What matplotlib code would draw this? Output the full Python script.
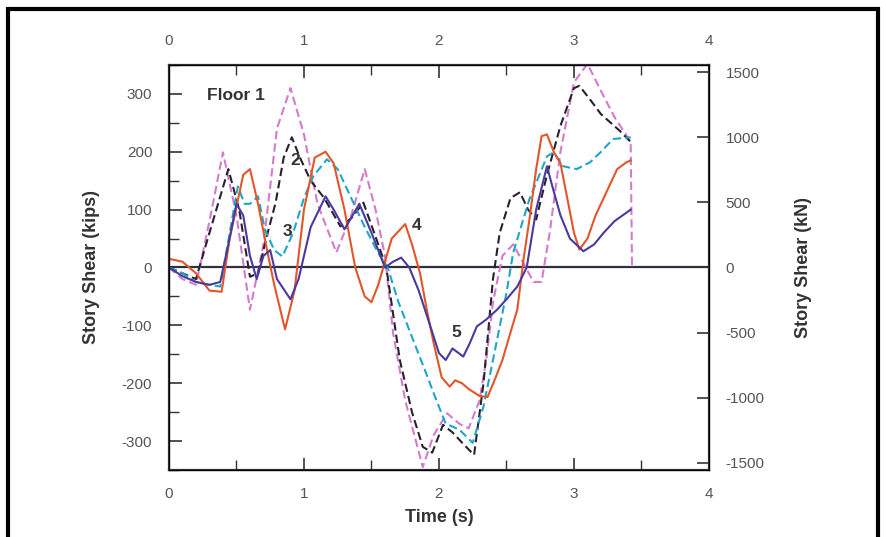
import numpy as np
import matplotlib
matplotlib.use("Agg")
import matplotlib.pyplot as plt
from matplotlib.patches import Rectangle

plt.rcParams['font.family'] = ['Liberation Sans', 'DejaVu Sans']
plt.rcParams['axes.unicode_minus'] = False

# story shear (kips), floors 1..5
t1 = [0, 0.1, 0.2, 0.3, 0.4, 0.5, 0.6, 0.7, 0.8, 0.9, 1.0, 1.1, 1.24, 1.35, 1.45, 1.53, 1.6, 1.66, 1.75,
      1.88, 1.96, 2.06, 2.15, 2.22, 2.3, 2.35, 2.4, 2.47, 2.55, 2.62, 2.7, 2.76, 2.82, 2.9, 3.0, 3.1,
      3.2, 3.3, 3.42, 3.43]
v1 = [0, -20, -30, 80, 199, 90, -73, 40, 240, 310, 230, 110, 26, 90, 170, 100, 20, -113, -230,
      -345, -290, -252, -270, -278, -230, -160, -60, 20, 40, 10, -25, -25, 60, 200, 320, 352,
      305, 260, 217, 0]

t2 = [0, 0.1, 0.2, 0.3, 0.44, 0.52, 0.6, 0.66, 0.72, 0.79, 0.85, 0.91, 0.97, 1.05, 1.15, 1.27, 1.35,
      1.44, 1.52, 1.61, 1.71, 1.8, 1.88, 1.95, 2.03, 2.1, 2.18, 2.26, 2.33, 2.4, 2.45, 2.53, 2.6,
      2.66, 2.72, 2.8, 2.9, 3.0, 3.04, 3.12, 3.2, 3.34, 3.42]
v2 = [0, -10, -20, 60, 170, 100, -16, -10, 50, 112, 190, 225, 190, 150, 120, 71, 85,
      112, 60, 0, -160, -250, -310, -320, -272, -285, -305, -324, -200, -20, 60, 120, 130,
      100, 83, 160, 245, 310, 314, 290, 265, 236, 217]

t3 = [0, 0.1, 0.2, 0.3, 0.38, 0.45, 0.51, 0.56, 0.6, 0.66, 0.71, 0.78, 0.84, 0.92, 1.0, 1.07, 1.17,
      1.25, 1.35, 1.45, 1.55, 1.62, 1.7, 1.8, 1.9, 1.98, 2.05, 2.15, 2.25, 2.33, 2.4, 2.5, 2.55,
      2.67, 2.8, 2.85, 2.92, 3.02, 3.12, 3.2, 3.29, 3.42]
v3 = [0, -10, -25, -30, -33, 60, 140, 110, 110, 123, 66, 30, 19, 60, 120, 158, 187,
      170, 120, 70, 25, 0, -60, -120, -180, -229, -270, -280, -303, -240, -160, -44, 26,
      118, 192, 199, 175, 170, 182, 200, 222, 225]

t4 = [0, 0.1, 0.2, 0.3, 0.39, 0.45, 0.55, 0.6, 0.66, 0.73, 0.78, 0.86, 0.93, 1.0, 1.08, 1.16, 1.22,
      1.3, 1.38, 1.45, 1.5, 1.55, 1.65, 1.75, 1.8, 1.86, 1.91, 1.96, 2.02, 2.08, 2.12, 2.17, 2.22,
      2.3, 2.36, 2.42, 2.47, 2.52, 2.58, 2.63, 2.67, 2.72, 2.76, 2.8, 2.85, 2.9, 2.95, 3.0, 3.04,
      3.1, 3.16, 3.24, 3.32, 3.39, 3.42]
v4 = [15, 10, -10, -40, -42, 50, 160, 170, 110, 26, -30, -107, -40, 100, 190, 200, 180,
      100, 0, -50, -60, -30, 50, 75, 40, -10, -73, -130, -190, -206, -195, -200, -210,
      -222, -224, -190, -160, -120, -73, 20, 83, 170, 227, 230, 200, 180, 120, 60, 31,
      50, 90, 130, 170, 182, 185]

t5 = [0, 0.1, 0.2, 0.3, 0.38, 0.44, 0.5, 0.55, 0.6, 0.65, 0.7, 0.75, 0.8, 0.9, 0.96, 1.05, 1.16,
      1.22, 1.3, 1.41, 1.5, 1.6, 1.66, 1.72, 1.78, 1.85, 1.92, 2.0, 2.05, 2.1, 2.18, 2.23, 2.28,
      2.35, 2.43, 2.5, 2.58, 2.65, 2.72, 2.8, 2.84, 2.9, 2.97, 3.07, 3.15, 3.22, 3.3, 3.36, 3.42]
v5 = [0, -15, -25, -30, -25, 40, 110, 90, 20, -20, 20, 30, -20, -55, -20, 70, 123,
      100, 66, 110, 60, 0, 10, 17, 0, -40, -90, -148, -160, -140, -154, -130, -102,
      -90, -73, -55, -33, 0, 100, 175, 140, 90, 50, 28, 40, 60, 80, 90, 100]

floors = [(t1, v1, '#d27ccc', (0, (4, 2))),
          (t2, v2, '#2a2030', (0, (4, 2))),
          (t3, v3, '#1ea6c6', (0, (4, 2))),
          (t4, v4, '#e2562a', '-'),
          (t5, v5, '#4a3aa0', '-')]

KIP_TO_KN = 4.448

fig = plt.figure(figsize=(8.86, 5.37), dpi=100)
ax = fig.add_axes([0.1907, 0.1248, 0.6095, 0.7542])

ax.axhline(0, color='#303040', lw=1.6, zorder=1)
for t, v, c, ls in floors:
    ax.plot(t, v, color=c, ls=ls, lw=1.5, zorder=2)

ax.set_xlim(0, 4)
ax.set_ylim(-350, 350)
ax.set_xticks([0, 1, 2, 3, 4])
ax.set_xticks(np.arange(0, 4.01, 0.5), minor=True)
ax.set_yticks([-300, -200, -100, 0, 100, 200, 300])
ax.set_yticks(np.arange(-350, 351, 50), minor=True)
ax.tick_params(which='both', direction='in', colors='#333', labelcolor='#555', labelsize=11)
ax.tick_params(which='major', length=9, width=1.2, pad=12)
ax.tick_params(which='minor', length=7, width=1.0)
ax.tick_params(axis='x', which='both', top=False)
ax.set_xlabel('Time (s)', fontsize=13, fontweight='bold', color='#333', labelpad=6)
ax.set_ylabel('Story Shear (kips)', fontsize=13, fontweight='bold', color='#333', labelpad=16)
for s in ax.spines.values():
    s.set_linewidth(1.6)
    s.set_color('#3a3040')

axt = ax.twiny()
axt.set_xlim(0, 4)
axt.set_xticks([0, 1, 2, 3, 4])
axt.set_xticks(np.arange(0, 4.01, 0.5), minor=True)
axt.tick_params(which='both', direction='in', colors='#333', labelcolor='#555', labelsize=11)
axt.tick_params(which='major', length=9, width=1.2, pad=12)
axt.tick_params(which='minor', length=7, width=1.0)

axr = ax.twinx()
axr.set_ylim(-350 * KIP_TO_KN, 350 * KIP_TO_KN)
axr.set_yticks([-1500, -1000, -500, 0, 500, 1000, 1500])
axr.tick_params(direction='in', colors='#333', labelcolor='#555', labelsize=11, length=9, width=1.2, pad=12)
axr.set_ylabel('Story Shear (kN)', fontsize=13, fontweight='bold', color='#333', labelpad=22)

ax.text(0.28, 298, 'Floor 1', fontsize=12.5, fontweight='bold', color='#333', va='center')
ax.text(0.9, 185, '2', fontsize=12.5, fontweight='bold', color='#333', va='center')
ax.text(0.84, 63, '3', fontsize=12.5, fontweight='bold', color='#333', va='center')
ax.text(1.8, 73, '4', fontsize=12.5, fontweight='bold', color='#333', va='center')
ax.text(2.09, -113, '5', fontsize=12.5, fontweight='bold', color='#333', va='center')

fig.patches.append(Rectangle((0.009, -0.05), 0.982, 1.033, transform=fig.transFigure,
                             fill=False, lw=3, ec='black'))

fig.savefig('out.png', dpi=100)
